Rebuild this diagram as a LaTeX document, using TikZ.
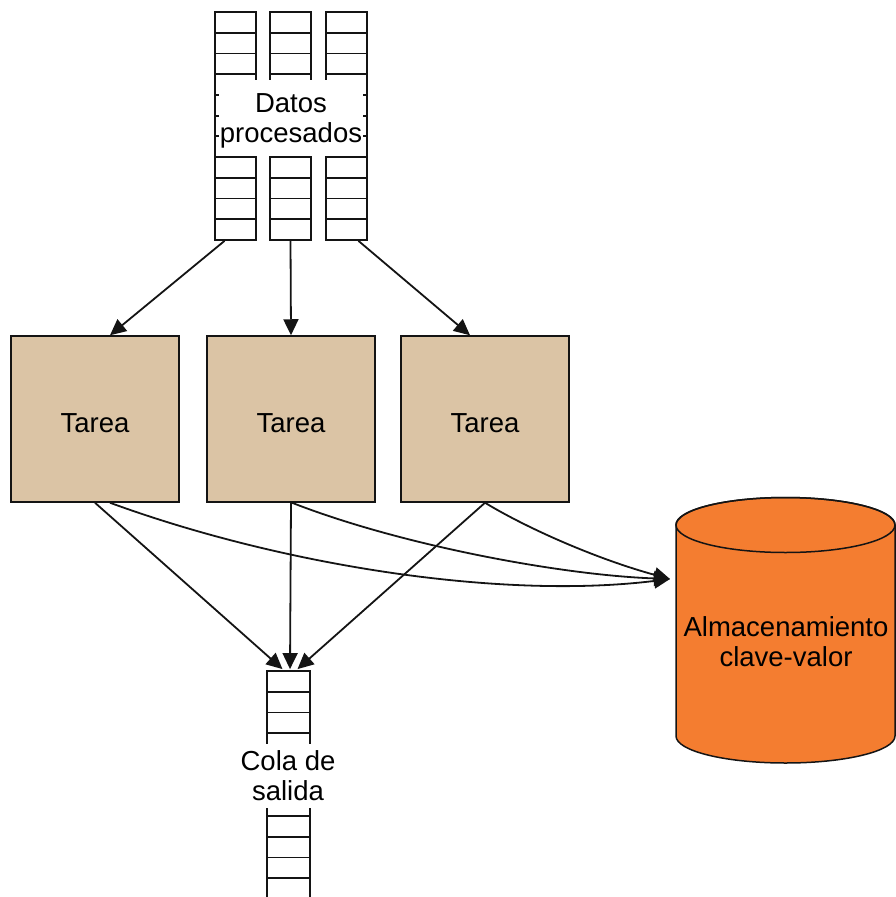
\documentclass[tikz,border=0pt]{standalone}
\usepackage{fontspec}
\setmainfont{Liberation Sans}
\usetikzlibrary{arrows.meta,calc}
\definecolor{taskfill}{RGB}{219,196,165}
\definecolor{storefill}{RGB}{244,125,48}
\definecolor{ink}{RGB}{20,20,20}
\newcommand{\lowered}[1]{\raisebox{-4pt}[\height][0pt]{#1}}
\begin{document}
\begin{tikzpicture}[x=1pt,y=-1pt,
  every node/.style={font=\fontsize{27.5}{30}\selectfont, text=black},
  conn/.style={draw=ink, line width=1.8pt, -{Triangle[length=16pt,width=15pt]}},
  lane/.style={draw=ink, line width=1.8pt, fill=white, minimum width=41pt, minimum height=228pt, inner sep=0pt},
  cell/.style={draw=ink, line width=1.8pt},
  qlabel/.style={fill=white, inner sep=0pt, align=center},
  task/.style={draw=ink, fill=taskfill, line width=1.5pt, minimum width=168pt, minimum height=166pt, inner sep=0pt},
]
\useasboundingbox (0,0) rectangle (896,897);

% input queues: three lanes of stacked cells
\node[lane] (q1) at (235.5,126) {};
\node[lane] (q2) at (290.5,126) {};
\node[lane] (q3) at (346.5,126) {};
\foreach \xl in {215,270,326}
  \foreach \k in {1,...,10}
    \draw[cell] (\xl,{12+\k*20.727}) -- ++(41,0);
\node[qlabel, minimum width=144pt, minimum height=76pt] (dpbox) at (291,118) {};
\node[align=center, inner sep=0pt] (dp) at (291,121) {Datos\\procesados};

% tasks
\node[task] (t1) at (95,419) {\lowered{Tarea}};
\node[task] (t2) at (291,419) {\lowered{Tarea}};
\node[task] (t3) at (485,419) {\lowered{Tarea}};

% output queue
\node[lane, minimum width=43pt] (oq) at (288.5,785) {};
\foreach \k in {1,...,10}
  \draw[cell] (267,{671+\k*20.727}) -- ++(43,0);
\node[qlabel, minimum height=64pt] (cs) at (288,776) {Cola de\\salida};

% key-value store
\path[fill=storefill, draw=ink, line width=1.5pt]
  (676,525) -- (676,736)
  arc[start angle=180, end angle=0, x radius=109.5, y radius=27]
  -- (895,525)
  arc[start angle=360, end angle=180, x radius=109.5, y radius=27.5] -- cycle;
\draw[ink, line width=1.5pt] (785.5,525) ellipse [x radius=109.5, y radius=27.5];
\node[align=center, inner sep=0pt] (kv) at (786,642) {Almacenamiento\\clave-valor};
\coordinate (kvin) at (670,579);

% queue to tasks
\draw[conn] ($(q1.south)+(-11,0)$) -- ($(t1.north)+(15,0)$);
\draw[conn] (q2.south) -- (t2.north);
\draw[conn] ($(q3.south)+(12,0)$) -- ($(t3.north)+(-15,0)$);

% tasks to output queue
\draw[conn] (t1.south) -- ($(oq.north)+(-6,-1)$);
\draw[conn] (t2.south) -- ($(oq.north)+(1.5,-1)$);
\draw[conn] (t3.south) -- ($(oq.north)+(9,-1)$);

% tasks to the store
\draw[conn] ($(t1.south)+(15,0)$) .. controls (280,565) and (500,600) .. (kvin);
\draw[conn] ($(t2.south)+(1,0)$) .. controls (400,545) and (560,575) .. (kvin);
\draw[conn] (t3.south) .. controls (530,530) and (600,560) .. (kvin);
\end{tikzpicture}
\end{document}
